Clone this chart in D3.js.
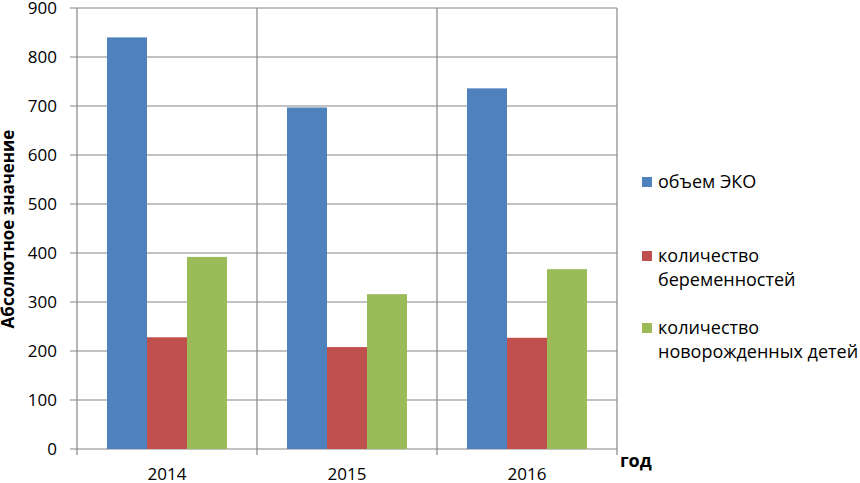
<!DOCTYPE html>
<html>
<head>
<meta charset="utf-8">
<script src="https://cdn.jsdelivr.net/npm/d3@7"></script>
<style>
  body { margin: 0; background: #fff; }
  text { font-family: "Open Sans", sans-serif; }
</style>
</head>
<body>
<div id="chart"><svg></svg></div>
<script>
var width = 860, height = 483;
var margins = { left: 77, top: 8, right: 243, bottom: 34 };

var years = ["2014", "2015", "2016"];
var seriesNames = ["объем ЭКО", "количество беременностей", "количество новорожденных детей"];
var ivf = [840, 697, 736];
var pregnancies = [228, 208, 227];
var newborns = [392, 316, 367];
var yTicks = [0, 100, 200, 300, 400, 500, 600, 700, 800, 900];
var colors = ["#4F81BD", "#C0504D", "#9BBB59"];

var series = [ivf, pregnancies, newborns];
var plotW = width - margins.left - margins.right;
var plotH = height - margins.top - margins.bottom;

var svg = d3.select("#chart").select("svg")
    .attr("width", width)
    .attr("height", height);

var g = svg.append("g")
    .attr("transform", "translate(" + margins.left + "," + margins.top + ")");

var x0 = d3.scaleBand().domain(years).range([0, plotW]).paddingInner(0).paddingOuter(0);
var x1 = d3.scaleBand().domain(d3.range(series.length)).range([0, x0.bandwidth()]).paddingOuter(0.75).paddingInner(0);
var yscale = d3.scaleLinear().domain([0, 900]).range([plotH, 0]);

// horizontal gridlines
g.selectAll(".hgrid").data(yTicks).enter().append("line")
    .attr("x1", -7).attr("x2", plotW)
    .attr("y1", function(d){ return yscale(d); })
    .attr("y2", function(d){ return yscale(d); })
    .attr("stroke", "#868686").attr("stroke-width", 1.2);

// vertical gridlines at category edges
var edges = years.map(function(d){ return x0(d); }).concat([plotW]);
g.selectAll(".vgrid").data(edges).enter().append("line")
    .attr("x1", function(d){ return d; }).attr("x2", function(d){ return d; })
    .attr("y1", 0).attr("y2", plotH + 6)
    .attr("stroke", "#868686").attr("stroke-width", 1.2);

// bars
series.forEach(function(vals, si){
    g.selectAll(".bar" + si).data(vals).enter().append("rect")
        .attr("x", function(d, i){ return x0(years[i]) + x1(si); })
        .attr("width", x1.bandwidth())
        .attr("y", function(d){ return yscale(d); })
        .attr("height", function(d){ return plotH - yscale(d); })
        .attr("fill", colors[si]);
});

// y tick labels
g.selectAll(".ylab").data(yTicks).enter().append("text")
    .attr("x", -20)
    .attr("y", function(d){ return yscale(d); })
    .attr("dy", "0.36em")
    .attr("text-anchor", "end")
    .attr("font-size", 17)
    .attr("fill", "#000")
    .text(function(d){ return d; });

// x labels
g.selectAll(".xlab").data(years).enter().append("text")
    .attr("x", function(d){ return x0(d) + x0.bandwidth() / 2; })
    .attr("y", plotH + 31)
    .attr("text-anchor", "middle")
    .attr("font-size", 17)
    .text(function(d){ return d; });

// axis titles
svg.append("text")
    .attr("transform", "translate(14,229) rotate(-90)")
    .attr("text-anchor", "middle")
    .attr("font-size", 17)
    .attr("font-weight", "bold")
    .text("Абсолютное значение");

svg.append("text")
    .attr("x", 620).attr("y", 467)
    .attr("font-size", 18)
    .attr("font-weight", "bold")
    .text("год");

// legend
var legendY = [188, 262, 334];
var legendLines = [["объем ЭКО"], ["количество", "беременностей"], ["количество", "новорожденных детей"]];
var lg = svg.selectAll(".leg").data(seriesNames).enter().append("g")
    .attr("transform", function(d, i){ return "translate(642," + legendY[i] + ")"; });
lg.append("rect")
    .attr("x", 0).attr("y", -11).attr("width", 10).attr("height", 10)
    .attr("fill", function(d, i){ return colors[i]; });
lg.each(function(d, i){
    var t = d3.select(this).append("text")
        .attr("x", 16).attr("y", 0)
        .attr("font-size", 18);
    legendLines[i].forEach(function(line, j){
        t.append("tspan").attr("x", 16).attr("y", j * 24).text(line);
    });
});
</script>
</body>
</html>
